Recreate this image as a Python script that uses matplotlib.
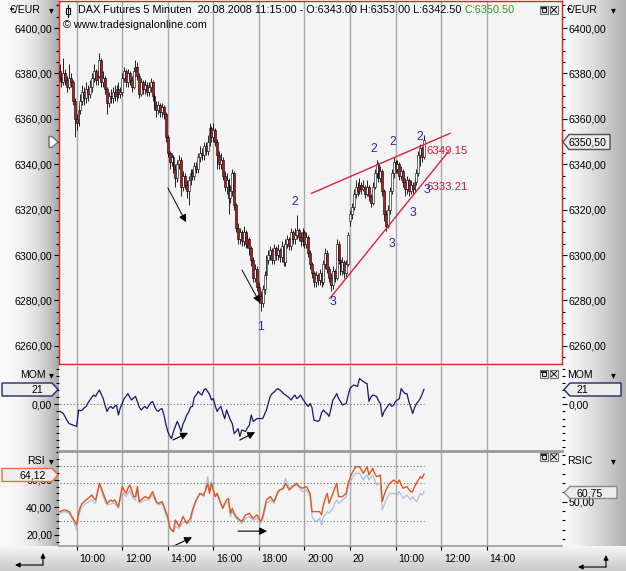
import numpy as np
import matplotlib
matplotlib.use('Agg')
import matplotlib.pyplot as plt
import matplotlib.colors as mcolors
import matplotlib.transforms as mtrans
from matplotlib.ticker import FuncFormatter, MultipleLocator, FixedLocator
from matplotlib.patches import Polygon, Rectangle

plt.rcParams['font.family'] = ['Liberation Sans', 'DejaVu Sans']

# ---------------- data (5-minute bars, day 1 09:15-21:55, day 2 08:00-11:15) ----------------
opens = [6381, 6378, 6376, 6380, 6377, 6374, 6378, 6376, 6368, 6360,
         6358, 6364, 6368, 6372, 6369, 6373, 6371, 6374, 6378, 6381,
         6377, 6379, 6386, 6376, 6378, 6373, 6367, 6370, 6369, 6372,
         6370, 6373, 6371, 6372, 6378, 6381, 6376, 6380, 6377, 6374,
         6381, 6383, 6379, 6371, 6376, 6373, 6375, 6372, 6374, 6376,
         6370, 6366, 6364, 6366, 6363, 6365, 6362, 6352, 6345, 6341,
         6343, 6338, 6334, 6340, 6342, 6330, 6335, 6331, 6328, 6333,
         6336, 6335, 6339, 6338, 6343, 6345, 6344, 6348, 6346, 6350,
         6356, 6352, 6355, 6350, 6344, 6340, 6342, 6335, 6330, 6333,
         6325, 6328, 6336, 6322, 6312, 6307, 6310, 6306, 6310, 6305,
         6307, 6303, 6298, 6290, 6294, 6286, 6282, 6279, 6285, 6291,
         6298, 6300, 6302, 6298, 6303, 6300, 6302, 6299, 6304, 6297,
         6305, 6307, 6304, 6310, 6307, 6309, 6311, 6308, 6306, 6310,
         6305, 6308, 6301, 6296, 6292, 6288, 6291, 6289, 6292, 6288,
         6296, 6301, 6294, 6290, 6287, 6293, 6290, 6305, 6298, 6293,
         6297, 6292, 6296,
         6315, 6318, 6321, 6327, 6330, 6328, 6331, 6329, 6330, 6327,
         6330, 6326, 6323, 6330, 6336, 6340, 6334, 6337, 6328, 6318,
         6313, 6320, 6328, 6336, 6341, 6338, 6340, 6335, 6337, 6332,
         6329, 6333, 6328, 6331, 6329, 6332, 6336, 6344, 6347, 6343]
highs = [6384, 6380, 6387, 6382, 6379, 6384, 6380, 6377, 6369, 6362,
         6366, 6371, 6375, 6374, 6376, 6375, 6377, 6380, 6384, 6382,
         6382, 6389, 6387, 6381, 6379, 6374, 6372, 6373, 6374, 6375,
         6375, 6376, 6374, 6380, 6383, 6382, 6382, 6381, 6379, 6383,
         6386, 6385, 6380, 6378, 6377, 6377, 6376, 6376, 6378, 6377,
         6371, 6368, 6368, 6367, 6367, 6366, 6363, 6353, 6346, 6345,
         6344, 6340, 6342, 6344, 6343, 6337, 6336, 6333, 6335, 6338,
         6338, 6341, 6341, 6345, 6348, 6347, 6350, 6350, 6353, 6358,
         6357, 6358, 6356, 6351, 6346, 6345, 6343, 6337, 6336, 6334,
         6331, 6338, 6337, 6323, 6314, 6312, 6311, 6313, 6311, 6309,
         6308, 6304, 6299, 6296, 6295, 6288, 6284, 6287, 6293, 6300,
         6302, 6304, 6303, 6305, 6304, 6305, 6303, 6306, 6305, 6307,
         6309, 6308, 6312, 6311, 6312, 6317.5, 6312, 6310, 6312, 6311,
         6310, 6309, 6302, 6297, 6293, 6293, 6292, 6294, 6293, 6298,
         6303, 6302, 6295, 6292, 6295, 6294, 6307, 6306, 6299, 6299,
         6298, 6298, 6310,
         6320, 6323, 6329, 6333, 6332, 6334, 6332, 6333, 6331, 6333,
         6331, 6327, 6332, 6338, 6342, 6341, 6339, 6338, 6329, 6320,
         6322, 6330, 6338, 6343, 6342, 6342, 6341, 6339, 6338, 6334,
         6335, 6334, 6333, 6332, 6334, 6338, 6346, 6349, 6348, 6353]
lows = [6376, 6374, 6375, 6375, 6372, 6373, 6374, 6366, 6352, 6355,
        6357, 6362, 6366, 6366, 6367, 6368, 6369, 6372, 6376, 6375,
        6375, 6378, 6374, 6374, 6371, 6362, 6365, 6367, 6367, 6368,
        6368, 6369, 6369, 6370, 6376, 6374, 6374, 6375, 6372, 6373,
        6379, 6377, 6369, 6370, 6371, 6371, 6370, 6370, 6372, 6368,
        6364, 6361, 6362, 6361, 6361, 6360, 6350, 6343, 6338, 6339,
        6336, 6330, 6332, 6338, 6326, 6328, 6329, 6325, 6322, 6331,
        6333, 6333, 6336, 6336, 6341, 6342, 6342, 6344, 6344, 6348,
        6350, 6350, 6348, 6338, 6338, 6338, 6333, 6328, 6327, 6318,
        6323, 6326, 6320, 6310, 6305, 6305, 6304, 6304, 6303, 6303,
        6300, 6295, 6288, 6288, 6284, 6279, 6275.5, 6277, 6283, 6289,
        6296, 6298, 6296, 6296, 6298, 6298, 6297, 6297, 6295, 6295,
        6303, 6302, 6302, 6305, 6305, 6307, 6306, 6304, 6304, 6303,
        6303, 6299, 6294, 6290, 6286, 6286, 6287, 6287, 6286, 6287,
        6294, 6292, 6288, 6284, 6285, 6288, 6289, 6296, 6291, 6291,
        6290, 6290, 6295,
        6313, 6316, 6320, 6325, 6326, 6327, 6327, 6328, 6325, 6326,
        6324, 6321, 6322, 6329, 6334, 6332, 6332, 6326, 6315, 6310.5,
        6312, 6318, 6327, 6334, 6336, 6336, 6333, 6333, 6330, 6326,
        6327, 6326, 6327, 6327, 6328, 6331, 6335, 6339, 6341, 6342.5]
closes = [6378, 6376, 6380, 6377, 6374, 6378, 6376, 6368, 6360, 6358,
          6364, 6368, 6372, 6369, 6373, 6371, 6374, 6378, 6381, 6377,
          6379, 6386, 6376, 6378, 6373, 6367, 6370, 6369, 6372, 6370,
          6373, 6371, 6372, 6378, 6381, 6376, 6380, 6377, 6374, 6381,
          6383, 6379, 6371, 6376, 6373, 6375, 6372, 6374, 6376, 6370,
          6366, 6364, 6366, 6363, 6365, 6362, 6352, 6345, 6341, 6343,
          6338, 6334, 6340, 6342, 6330, 6335, 6331, 6328, 6333, 6336,
          6335, 6339, 6338, 6343, 6345, 6344, 6348, 6346, 6350, 6356,
          6352, 6355, 6350, 6344, 6340, 6342, 6335, 6330, 6333, 6325,
          6328, 6336, 6322, 6312, 6307, 6310, 6306, 6310, 6305, 6307,
          6303, 6298, 6290, 6294, 6286, 6282, 6279, 6285, 6291, 6298,
          6300, 6302, 6298, 6303, 6300, 6302, 6299, 6304, 6297, 6305,
          6307, 6304, 6310, 6307, 6309, 6311, 6308, 6306, 6310, 6305,
          6308, 6301, 6296, 6292, 6288, 6291, 6289, 6292, 6288, 6296,
          6301, 6294, 6290, 6287, 6293, 6290, 6305, 6298, 6293, 6297,
          6292, 6296, 6309,
          6318, 6321, 6327, 6330, 6328, 6331, 6329, 6330, 6327, 6330,
          6326, 6323, 6330, 6336, 6340, 6334, 6337, 6328, 6318, 6313,
          6320, 6328, 6336, 6341, 6338, 6340, 6335, 6337, 6332, 6329,
          6333, 6328, 6331, 6329, 6332, 6336, 6344, 6347, 6343, 6350.5]

mom21 = [-10, -11, -13, -18, -23, -27, -28, -29, -30, -31,
         -8, -9, -8, -5, -3, 2, 6, 10, 13, 11,
         16, 20, 14, 8, -2, -10, -5, -3, -6, -3,
         -1, -15, -5, 1, 8, 11, 15, 10, 6, 9,
         11, 4, -4, -8, -5, -3, -6, -2, 2, 4,
         -3, -8, -10, -7, -6, -15, -28, -38, -44, -48,
         -38, -31, -24, -30, -38, -28, -22, -15, -11, -4,
         -3, 10, 13, 18, 15, 13, 20, 22, 18, 14,
         6, 8, -2, -10, -6, -3, -12, -20, -8, -15,
         -22, -27, -41, -38, -34, -45, -36, -37, -38, -33,
         -29, -15, -24, -22, -20, -20, -20, -20, -14, -8,
         2, 11, 15, 17, 20, 22, 20, 18, 15, 13,
         11, 9, 6, 10, 13, 8, 10, 13, 8, 4,
         0, -3, 1, -5, -22, -23, -24, -22, -12, -8,
         -11, -13, -17, -6, 6, 10, 15, 8, 4, -1,
         0, 1, 12,
         22, 25, 27, 26, 25, 36, 34, 32, 30, 29,
         4, 10, 13, 12, 11, 5, 1, -17, -10, -6,
         -2, 1, -3, -1, 4, 6, 8, 22, 18, 15,
         15, 4, -4, -13, -5, 1, 4, 8, 14, 21]

rsi = [36.8, 37.3, 38.0, 38.0, 37.3, 36.8, 34.4, 31.9, 29.5, 27.1,
       35.6, 40.4, 42.8, 44.1, 45.3, 46.5, 47.7, 48.9, 46.5, 45.3,
       51.3, 57.4, 53.8, 50.1, 46.5, 42.8, 44.1, 45.3, 44.1, 45.3,
       42.8, 40.4, 47.7, 55.0, 52.6, 50.1, 53.8, 56.2, 52.6, 47.7,
       47.7, 55.0, 44.1, 45.3, 46.5, 47.7, 47.0, 46.5, 48.9, 51.3,
       47.7, 44.1, 42.8, 43.3, 44.1, 40.4, 36.8, 33.2, 25.9, 23.4,
       22.2, 30.7, 28.3, 25.9, 29.5, 33.2, 30.7, 28.3, 30.2, 31.9,
       38.0, 41.6, 45.3, 47.7, 50.1, 49.4, 48.9, 52.6, 57.4, 50.1,
       57.4, 52.6, 47.7, 50.1, 46.5, 42.8, 39.2, 42.8, 45.3, 46.5,
       35.6, 39.2, 35.6, 33.2, 31.9, 30.7, 29.5, 31.9, 34.4, 34.9,
       35.6, 33.6, 31.9, 33.2, 34.4, 31.9, 29.5, 33.2, 39.2, 45.3,
       46.5, 47.7, 45.8, 44.1, 47.7, 51.3, 52.6, 53.0, 53.8, 57.4,
       55.0, 52.6, 53.8, 55.0, 56.2, 57.4, 55.5, 54.5, 53.8, 54.5,
       55.0, 52.6, 50.1, 36.8, 36.8, 36.8, 36.8, 36.8, 34.4, 41.6,
       46.5, 50.1, 42.8, 46.5, 50.1, 53.8, 57.4, 47.7, 47.7, 47.7,
       48.9, 50.1, 57.4,
       61.0, 64.7, 67.1, 69.5, 69.5, 69.5, 67.1, 64.7, 67.1, 69.5,
       63.5, 65.9, 68.3, 64.7, 62.2, 62.7, 63.5, 44.1, 48.9, 52.6,
       55.0, 57.4, 58.6, 59.8, 58.6, 57.4, 59.8, 56.2, 53.8, 54.5,
       55.0, 53.0, 51.3, 51.3, 55.0, 57.4, 59.8, 62.2, 61.0, 64.12]

rsic = [37.5, 38.2, 39.3, 39.3, 38.2, 37.5, 33.9, 30.3, 24.9, 19.6,
        33.9, 41.1, 44.7, 46.5, 48.2, 49.3, 50.8, 51.8, 50.0, 48.2,
        59.0, 68.0, 61.9, 55.4, 50.0, 46.5, 47.2, 47.5, 48.2, 48.2,
        45.4, 42.9, 51.8, 60.8, 58.3, 55.4, 59.0, 62.6, 57.2, 52.6,
        51.8, 60.8, 48.2, 49.3, 50.8, 51.8, 51.8, 51.8, 54.7, 57.2,
        52.6, 48.2, 46.5, 47.2, 48.2, 42.9, 35.7, 30.3, 21.4, 19.6,
        17.8, 23.2, 22.4, 21.4, 24.9, 28.5, 27.5, 26.7, 27.5, 28.5,
        37.5, 44.7, 51.8, 55.4, 59.0, 57.2, 55.4, 66.2, 76.9, 62.6,
        71.5, 63.3, 55.4, 57.2, 51.8, 46.5, 42.9, 46.5, 48.2, 50.0,
        33.9, 39.3, 35.7, 32.1, 30.3, 28.5, 26.7, 29.6, 32.1, 33.2,
        33.9, 32.1, 30.3, 31.0, 32.1, 29.6, 26.7, 30.3, 39.3, 48.2,
        50.0, 51.8, 50.0, 48.2, 53.6, 59.0, 61.9, 64.4, 66.2, 75.1,
        69.8, 64.4, 66.2, 68.0, 68.0, 68.0, 65.4, 63.3, 60.8, 61.9,
        62.6, 59.0, 55.4, 33.9, 31.0, 28.5, 30.3, 32.1, 24.9, 33.9,
        35.7, 39.3, 37.5, 40.4, 42.9, 48.2, 51.8, 48.2, 50.0, 51.8,
        53.6, 55.4, 66.2,
        71.5, 75.1, 77.6, 80.5, 80.5, 80.5, 76.9, 73.3, 76.2, 78.7,
        73.3, 76.2, 78.7, 73.3, 68.0, 69.0, 69.8, 41.1, 46.5, 51.8,
        55.4, 59.0, 59.0, 59.0, 58.3, 57.2, 60.8, 57.2, 53.6, 55.4,
        57.2, 54.7, 51.8, 55.4, 52.6, 50.0, 53.6, 59.0, 57.2, 60.75]

tick_bars = [9, 33, 57, 81, 105, 129, 153, 177, 201, 225]
tick_labels = ['10:00', '12:00', '14:00', '16:00', '18:00', '20:00', '20', '10:00', '12:00', '14:00']

wave_labels = [('1', 105.6, 6268.3), ('2', 124.0, 6323.5), ('3', 144.2, 6279.4),
               ('2', 165.6, 6346.7), ('2', 175.8, 6349.9), ('2', 189.9, 6352.1),
               ('3', 175.0, 6304.7), ('3', 186.0, 6318.6), ('3', 193.4, 6328.6)]
wedge_lines = [((132.8, 6327.2), (205.7, 6353.6)), ((142.4, 6280.9), (204.8, 6345.5))]
level_texts = [('6349.15', 193.0, 6345.8), ('6333.21', 193.0, 6330.0)]
price_arrows = [((57.1, 6329.5), (66.6, 6314.5)), ((96.1, 6293.4), (105.6, 6278.9))]
mom_arrows = [((59.7, -50), (67.7, -40)), ((95.0, -50), (103.0, -39))]
rsi_arrows = [((59.7, 11.5), (69.8, 18.1)), ((94.0, 22.6), (109.3, 22.6))]

# ---------------- figure ----------------
W, H = 626, 571
FS = 7.6
FSH = 7.8
fig = plt.figure(figsize=(W / 100, H / 100), dpi=100)
fig.patch.set_facecolor('white')


def rect(x0, y0, x1, y1):
    return [x0 / W, 1 - y1 / H, (x1 - x0) / W, (y1 - y0) / H]


bg = fig.add_axes([0, 0, 1, 1], zorder=0)
bg.axis('off')


def grad(ax, x0, x1, y0, y1, c0, c1, vertical=False, power=1.0):
    g = (np.linspace(0, 1, 128) ** power)[:, None]
    a = np.array(mcolors.to_rgb(c0))
    b = np.array(mcolors.to_rgb(c1))
    cols = a * (1 - g) + b * g
    img = cols[:, None, :] if vertical else cols[None, :, :]
    ax.imshow(img, extent=(x0, x1, y1, y0), origin='upper', aspect='auto',
              interpolation='bilinear', zorder=0)


grad(bg, 0, 59, 0, 546, '#FAFAFA', '#A9A9A9', power=2.2)
grad(bg, 562, 626, 0, 546, '#FBFBFB', '#B0B0B0', power=1.3)
grad(bg, 0, 626, 546, 571, '#F6F6F6', '#C8C8C8', vertical=True)
bg.set_xlim(0, W)
bg.set_ylim(H, 0)

PANEL_BG = '#F4F4F4'
GRID = '#A8A8A8'
xs = np.arange(len(closes))
XL = (-0.3, 264.7)


def fmt(v, p):
    return f"{v:.2f}".replace('.', ',')


ax1 = fig.add_axes(rect(59, 1, 562, 364), zorder=1, facecolor=PANEL_BG)
ax2 = fig.add_axes(rect(59, 366, 562, 450), zorder=1, facecolor=PANEL_BG)
ax3 = fig.add_axes(rect(59, 452, 562, 545), zorder=2)
ax3r = ax3.twinx()
ax3r.set_zorder(1)
ax3.patch.set_visible(False)
ax3r.patch.set_visible(True)
ax3r.patch.set_facecolor(PANEL_BG)

for ax in (ax1, ax2, ax3):
    ax.set_xlim(*XL)
    ax.set_xticks(tick_bars)
    ax.grid(axis='x', color=GRID, lw=1)
    ax.set_axisbelow(True)
for ax in (ax1, ax2):
    ax.tick_params(axis='x', bottom=False, labelbottom=False)

# --- price panel ---
o = np.array(opens, float); hh = np.array(highs, float)
ll = np.array(lows, float); c = np.array(closes, float)
up = c >= o
ax1.vlines(xs, ll, hh, color='black', lw=0.6, zorder=2)
ax1.bar(xs, np.maximum(np.abs(c - o), 0.35), bottom=np.minimum(o, c), width=1.0,
        color=np.where(up, 'white', '#B21C1C'), edgecolor='black', linewidth=0.4, zorder=3)
for (p0, p1) in wedge_lines:
    ax1.plot([p0[0], p1[0]], [p0[1], p1[1]], color='#E0203A', lw=1.0, zorder=4)
for s, bx, py in wave_labels:
    ax1.text(bx, py, s, color='#2626B4', fontsize=8.8, ha='center', va='center', zorder=5)
for s, bx, py in level_texts:
    ax1.text(bx, py, s, color='#D01838', fontsize=8.2, ha='left', va='center', zorder=6)
for (p0, p1) in price_arrows:
    ax1.annotate('', xy=p1, xytext=p0,
                 arrowprops=dict(arrowstyle='-|>', color='black', lw=0.7,
                                 mutation_scale=11, shrinkA=0, shrinkB=0), zorder=5)
ax1.set_ylim(6252.0, 6411.9)
ax1.yaxis.set_major_locator(FixedLocator(list(range(6260, 6401, 20))))
ax1.yaxis.set_minor_locator(MultipleLocator(5))
ax1.yaxis.set_major_formatter(FuncFormatter(fmt))
ax1.tick_params(axis='y', which='both', left=True, right=True, labelleft=True,
                labelright=True, direction='out', labelsize=FS, pad=1.5, width=0.8)
ax1.tick_params(axis='y', which='major', length=3.5)
ax1.tick_params(axis='y', which='minor', length=2)
for sp in ax1.spines.values():
    sp.set_color('#E02020')
    sp.set_linewidth(1.0)

# --- momentum panel ---
ax2.plot(xs, mom21, color='#17176E', lw=0.9, zorder=3)
ax2.plot([xs[0], xs[-1]], [0, 0], color='#6A6A6A', lw=0.8, ls=(0, (1, 2)), zorder=2)
for (p0, p1) in mom_arrows:
    ax2.annotate('', xy=p1, xytext=p0,
                 arrowprops=dict(arrowstyle='-|>', color='black', lw=0.8,
                                 mutation_scale=11, shrinkA=0, shrinkB=0), zorder=5)
ax2.set_ylim(-64.0, 53.6)
ax2.yaxis.set_major_locator(FixedLocator([0]))
ax2.yaxis.set_minor_locator(MultipleLocator(10))
ax2.yaxis.set_major_formatter(FuncFormatter(fmt))
ax2.tick_params(axis='y', which='both', left=True, right=True, labelleft=True,
                labelright=True, direction='out', labelsize=FS, pad=1.5, width=0.8)
ax2.tick_params(axis='y', which='major', length=3.5)
ax2.tick_params(axis='y', which='minor', length=2)
for sp in ax2.spines.values():
    sp.set_visible(False)

# --- RSI panel ---
ax3.set_ylim(12.5, 80.2)
ax3r.set_ylim(3.44, 103.4)
ax3.plot(xs, rsic, color='#A9C0DE', lw=0.9, zorder=2, transform=ax3r.transData)
ax3.plot(xs, rsi, color='#E2541E', lw=1.0, zorder=3)
for lvl in (70, 30):
    ax3.plot([xs[0], xs[-1]], [lvl, lvl], color='#6A6A6A', lw=0.8, ls=(0, (1, 2)), zorder=1)
ax3.plot([xs[0], xs[-1]], [70, 70], color='#6A6A6A', lw=0.8, ls=(0, (1, 2)), zorder=1,
         transform=ax3r.transData)
for (p0, p1) in rsi_arrows:
    ax3.annotate('', xy=p1, xytext=p0,
                 arrowprops=dict(arrowstyle='-|>', color='black', lw=0.8,
                                 mutation_scale=11, shrinkA=0, shrinkB=0), zorder=5,
                 annotation_clip=False)
ax3.yaxis.set_major_locator(FixedLocator([20, 40, 60]))
ax3.yaxis.set_minor_locator(MultipleLocator(5))
ax3.yaxis.set_major_formatter(FuncFormatter(fmt))
ax3.tick_params(axis='y', which='both', direction='out', labelsize=FS, pad=1.5, width=0.8)
ax3.tick_params(axis='y', which='major', length=3.5)
ax3.tick_params(axis='y', which='minor', length=2)
ax3r.yaxis.set_major_locator(FixedLocator([50]))
ax3r.yaxis.set_minor_locator(MultipleLocator(10))
ax3r.yaxis.set_major_formatter(FuncFormatter(fmt))
ax3r.tick_params(axis='y', which='both', direction='out', labelsize=FS, pad=1.5, width=0.8)
ax3r.tick_params(axis='y', which='major', length=3.5)
ax3r.tick_params(axis='y', which='minor', length=2)
ax3.set_xticklabels(tick_labels, fontsize=FS)
ax3.tick_params(axis='x', direction='out', length=3.5, pad=3, width=0.8)
off = mtrans.ScaledTranslation(2 / 72, 0, fig.dpi_scale_trans)
for lab in ax3.get_xticklabels():
    lab.set_horizontalalignment('left')
    lab.set_transform(lab.get_transform() + off)
for a in (ax3, ax3r):
    for sp in a.spines.values():
        sp.set_visible(False)

# ---------------- overlay decorations ----------------
ov = fig.add_axes([0, 0, 1, 1], zorder=10)
ov.set_xlim(0, W)
ov.set_ylim(H, 0)
ov.axis('off')

# panel separators
ov.plot([59, 562], [451, 451], color='#9A9A9A', lw=2)
ov.plot([59, 562], [545.5, 545.5], color='#9A9A9A', lw=1.2)

# header
ov.plot([67.5, 67.5], [5, 17], color='black', lw=0.8)
ov.add_patch(Rectangle((65.5, 8), 4, 6, fc='white', ec='black', lw=0.8))
t1 = ov.text(78, 10, 'DAX Futures 5 Minuten  20.08.2008 11:15:00 - O:6343.00 H:6353.00 L:6342.50',
             fontsize=FSH, ha='left', va='center')
ov.annotate('C:6350.50', xy=(1, 0.5), xycoords=t1, xytext=(2.5, 0), textcoords='offset points',
            ha='left', va='center', fontsize=FSH, color='#22A022')
ov.text(63, 25.5, '\u00a9 www.tradesignalonline.com', fontsize=FSH, ha='left', va='center')


def title(x, y, s, tri_x):
    ov.text(x, y, s, fontsize=FS, ha='left', va='center')
    ov.text(tri_x, y, '\u25BE', fontsize=7, ha='center', va='center', family='DejaVu Sans')


title(10, 10, '\u20ac/EUR', 51)
title(567, 10, '\u20ac/EUR', 613)
title(20, 375, 'MOM', 51)
title(567, 375, 'MOM', 613)
title(27, 461.5, 'RSI', 51)
title(567, 461.5, 'RSIC', 613)


def tag(x0, x1, yc, h, side, text, tx, ec, ha='center', fc='#EDEDED'):
    if side == 'right':
        pts = [(x0, yc - h / 2), (x1 - 6, yc - h / 2), (x1, yc), (x1 - 6, yc + h / 2), (x0, yc + h / 2)]
    else:
        pts = [(x0, yc), (x0 + 6, yc - h / 2), (x1, yc - h / 2), (x1, yc + h / 2), (x0 + 6, yc + h / 2)]
    ov.add_patch(Polygon(pts, closed=True, fc=fc, ec=ec, lw=1, zorder=5))
    ov.text(tx, yc + 0.5, text, ha=ha, va='center', fontsize=FS, zorder=6)


tag(563, 610, 142, 15, 'left', '6350,50', 587, '#505050')
tag(49, 58, 142, 11, 'right', '', 0, '#707070', fc='white')
tag(2, 58, 389.5, 13, 'right', '21', 43, '#1E2A70', ha='right')
tag(564, 621, 389.5, 13, 'left', '21', 582, '#1E2A70')
tag(2, 58, 475, 13, 'right', '64,12', 33, '#E07040')
tag(564, 617, 492.5, 12, 'left', '60,75', 590, '#8A8A8A')


def buttons(x, y):
    ov.add_patch(Rectangle((x, y), 8, 8, fc='#F0F0F0', ec='#707070', lw=0.8, zorder=6))
    ov.add_patch(Rectangle((x + 2, y + 2), 4, 4, fc='none', ec='#202020', lw=0.8, zorder=7))
    ov.plot([x + 2, x + 6], [y + 2.3, y + 2.3], color='#202020', lw=1.4, zorder=7)
    ov.add_patch(Rectangle((x + 10, y), 8, 8, fc='#F0F0F0', ec='#707070', lw=0.8, zorder=6))
    ov.plot([x + 11.5, x + 16.5], [y + 1.5, y + 6.5], color='#202020', lw=0.8, zorder=7)
    ov.plot([x + 11.5, x + 16.5], [y + 6.5, y + 1.5], color='#202020', lw=0.8, zorder=7)


buttons(540, 6)
buttons(540, 370)
buttons(540, 453)


def corner_icon(x0, x1, ytop, ybot):
    ov.annotate('', xy=(x0, ybot), xytext=(x1, ybot),
                arrowprops=dict(arrowstyle='-|>', color='black', lw=0.8, mutation_scale=7,
                                shrinkA=0, shrinkB=0))
    ov.annotate('', xy=(x1, ytop), xytext=(x1, ybot),
                arrowprops=dict(arrowstyle='-|>', color='black', lw=0.8, mutation_scale=7,
                                shrinkA=0, shrinkB=0))


corner_icon(15, 43, 553, 565)
corner_icon(578, 606, 555, 567)

fig.savefig('out.png', dpi=100)
